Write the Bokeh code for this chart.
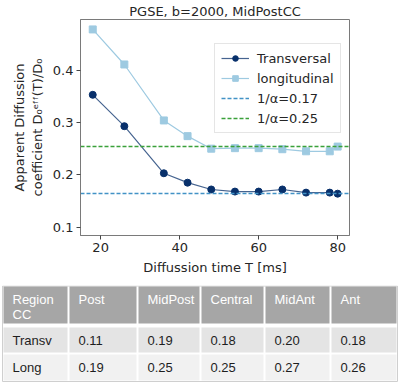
from bokeh.plotting import figure
from bokeh.models import Range1d, Legend, LegendItem, FixedTicker, ColumnDataSource
from bokeh.layouts import column
from bokeh.embed import file_html
from bokeh.resources import INLINE
from bokeh.core.properties import value

# ---------------- data ----------------
diff_time = [18, 26, 36, 42, 48, 54, 60, 66, 72, 78, 80]
transversal = [0.353, 0.293, 0.203, 0.185, 0.172, 0.168, 0.168, 0.172, 0.166, 0.166, 0.164]
longitudinal = [0.478, 0.411, 0.304, 0.274, 0.250, 0.251, 0.251, 0.249, 0.245, 0.245, 0.254]
alpha_inv = [0.165, 0.254]
alpha_labels = ["1/α=0.17", "1/α=0.25"]
x_ticks = [20, 40, 60, 80]
y_ticks = [0.1, 0.2, 0.3, 0.4]

table_header = ["Region\nCC", "Post", "MidPost", "Central", "MidAnt", "Ant"]
row_labels = ["Transv", "Long"]
transv_table = ["0.11", "0.19", "0.18", "0.20", "0.18"]
long_table = ["0.19", "0.25", "0.25", "0.27", "0.26"]

FONT = "DejaVu Sans"
TXT = "#262626"
SPINE = "#7a7a7a"

# ---------------- plot ----------------
p = figure(frame_width=269, frame_height=216,
           x_range=Range1d(14.9, 83.0), y_range=Range1d(0.084, 0.497),
           output_backend="svg", toolbar_location=None,
           min_border_left=80, min_border_right=51, min_border_bottom=50, min_border_top=0)
p.frame_align = False
p.title.text = "PGSE, b=2000, MidPostCC"
p.title.align = "center"
p.title.text_font = FONT
p.title.text_font_size = "13px"
p.title.text_font_style = "normal"
p.title.text_color = TXT
p.title.standoff = 2
p.title.offset = 0

p.xgrid.visible = False
p.ygrid.visible = False
p.outline_line_color = SPINE
p.outline_line_width = 1

for ax in (p.xaxis[0], p.yaxis[0]):
    ax.axis_line_color = SPINE
    ax.major_tick_line_color = "#444444"
    ax.major_tick_out = 4
    ax.major_tick_in = 0
    ax.minor_tick_line_color = None
    ax.major_label_text_font = FONT
    ax.major_label_text_font_size = "13px"
    ax.major_label_text_color = TXT
    ax.major_label_standoff = 3
    ax.axis_label_text_font = FONT
    ax.axis_label_text_font_size = "13px"
    ax.axis_label_text_font_style = "normal"
    ax.axis_label_text_color = TXT
    ax.axis_label_standoff = 5

p.xaxis.ticker = FixedTicker(ticks=x_ticks)
p.yaxis.ticker = FixedTicker(ticks=y_ticks)
p.xaxis.axis_label = "Diffussion time T [ms]"
p.yaxis.axis_label = "Apparent Diffussion\ncoefficient D\u2080\u1d49\u1da0\u1da0(T)/D\u2080"

r1l = p.line(diff_time, transversal, line_color="#08306b", line_width=1.2, line_alpha=0.75)
r1s = p.scatter(diff_time, transversal, marker="circle", size=7, color="#08306b")
r2l = p.line(diff_time, longitudinal, line_color="#9ecae1", line_width=1.2)
r2s = p.scatter(diff_time, longitudinal, marker="square", size=7, color="#9ecae1")
h1 = p.hspan(y=[alpha_inv[0]], line_color="#4292c6", line_dash="4 2", line_width=1.3)
h2 = p.hspan(y=[alpha_inv[1]], line_color="#3aa13a", line_dash="4 2", line_width=1.3)

legend = Legend(items=[
    LegendItem(label="Transversal", renderers=[r1l, r1s]),
    LegendItem(label="longitudinal", renderers=[r2l, r2s]),
    LegendItem(label=alpha_labels[0], renderers=[h1]),
    LegendItem(label=alpha_labels[1], renderers=[h2]),
], location=(134, 102))
legend.label_text_font = FONT
legend.label_text_font_size = "13px"
legend.label_text_color = TXT
legend.glyph_width = 28
legend.glyph_height = 14
legend.label_height = 16
legend.label_standoff = 8
legend.spacing = 4
legend.padding = 6
legend.margin = 0
legend.border_line_color = "#cccccc"
legend.background_fill_alpha = 0.8
p.add_layout(legend)

# ---------------- table ----------------
TW, TH = 400, 99
t = figure(frame_width=TW, frame_height=TH, x_range=Range1d(0, TW), y_range=Range1d(TH, 0),
           output_backend="svg", toolbar_location=None, min_border=0,
           x_axis_location=None, y_axis_location=None)
t.frame_align = False
t.xgrid.visible = False
t.ygrid.visible = False
t.outline_line_color = None

edges = [2, 68, 137, 200, 264, 330, 397]
row_bounds = [(1, 38), (42, 67), (69, 95)]
row_fill = ["#a6a6a6", "#e4e4e4", "#f1f1f1"]

q = dict(left=[], right=[], top=[], bottom=[], fill=[])
for r, (top, bot) in enumerate(row_bounds):
    for c in range(len(edges) - 1):
        q["left"].append(edges[c] + 1)
        q["right"].append(edges[c + 1] - 1)
        q["top"].append(top)
        q["bottom"].append(bot)
        q["fill"].append(row_fill[r])
t.quad(left=[edges[0]], right=[edges[-1]], top=[0.5], bottom=[96],
       fill_color=None, line_color="#cfcfcf", line_width=1)
t.quad(left="left", right="right", top="top", bottom="bottom", fill_color="fill",
       line_color=None, source=ColumnDataSource(q))

hdr = dict(x=[edges[c] + 10 for c in range(6)], y=[6] * 6, text=table_header)
t.text(x="x", y="y", text="text", source=ColumnDataSource(hdr), text_font=value("Liberation Sans"),
       text_font_size=value("13px"), text_color="white", text_baseline="top",
       text_line_height=1.0)

cells = dict(x=[], y=[], text=[])
for r, vals in enumerate([transv_table, long_table]):
    yc = (row_bounds[r + 1][0] + row_bounds[r + 1][1]) / 2
    cells["x"].append(edges[0] + 10)
    cells["y"].append(yc)
    cells["text"].append(row_labels[r])
    for c, v in enumerate(vals):
        cells["x"].append(edges[c + 1] + 10)
        cells["y"].append(yc)
        cells["text"].append(v)
t.text(x="x", y="y", text="text", source=ColumnDataSource(cells), text_font=value("Liberation Sans"),
       text_font_size=value("13px"), text_color="#1e1e1e", text_baseline="middle")

layout = column(p, t, spacing=0)
open("out.html", "w").write(file_html(layout, INLINE))
